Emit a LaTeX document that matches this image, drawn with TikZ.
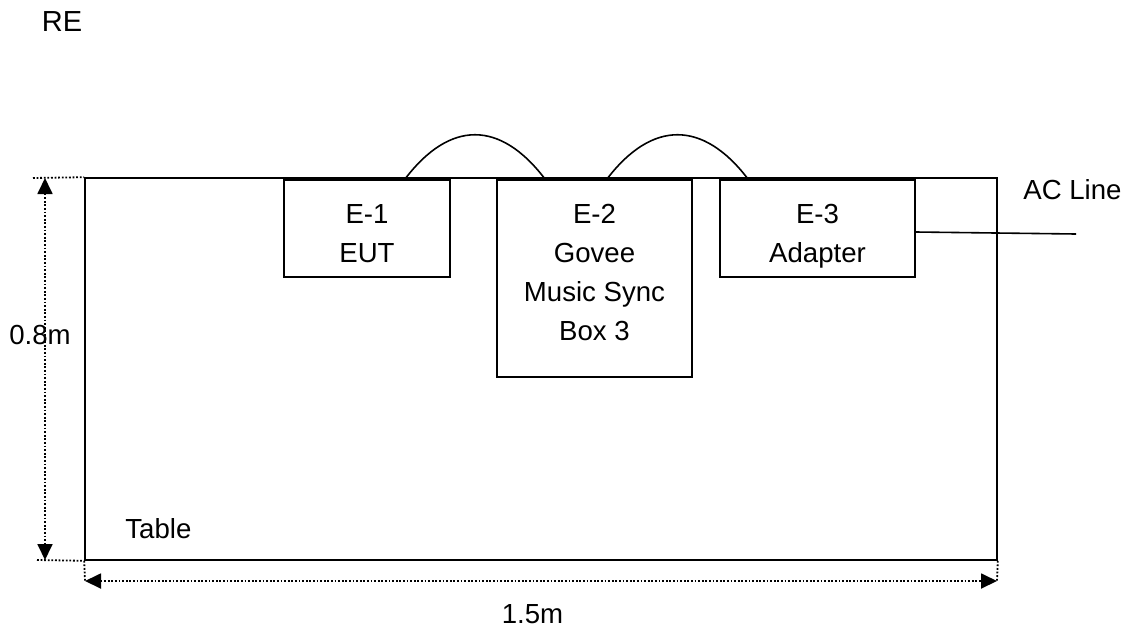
\documentclass[tikz,border=0pt]{standalone}
\usepackage{fontspec}
\setmainfont{Liberation Sans}
\usetikzlibrary{arrows.meta, positioning}

\begin{document}
\begin{tikzpicture}[x=0.5pt, y=-0.5pt, >={Triangle[length=8pt,width=7.5pt]},
    font=\fontsize{13.8}{19.5}\selectfont,
    unit/.style={draw, line width=0.8pt, inner sep=0pt},
    unittext/.style={anchor=north, inner sep=0pt, align=center, yshift=-12.5pt},
    dim/.style={line width=0.9pt, dash pattern=on 0.9pt off 0.9pt},
    cable/.style={line width=0.8pt}]
      \useasboundingbox (0,0) rectangle (1124,632);

      % table and units
      \node[unit, minimum width=456pt, minimum height=191pt] (table) at (541,369) {};
      \node[unit, minimum width=83pt, minimum height=48.5pt] (e1) at (367,228.5) {};
      \node[unit, minimum width=97.5pt, minimum height=98.5pt] (e2) at (594.5,278.5) {};
      \node[unit, minimum width=97.5pt, minimum height=48.5pt] (e3) at (817.5,228.5) {};
      \node[unittext] (e1 text) at (e1.north) {E-1\\EUT};
      \node[unittext] (e2 text) at (e2.north) {E-2\\Govee\\Music Sync\\Box 3};
      \node[unittext] (e3 text) at (e3.north) {E-3\\Adapter};

      \node[anchor=base west, inner sep=0pt] (table label) at (125,538) {Table};
      \node[anchor=west, inner sep=0pt] (ac label) at (1023,190) {AC Line};
      \node[inner sep=0pt, font=\fontsize{14.5}{17}\selectfont] (re label) at (62,22) {RE};

      % cables
      \coordinate (c1a) at (405,179);
      \coordinate (c1b) at (545,179);
      \coordinate (c2a) at (607,179);
      \coordinate (c2b) at (748,179);
      \coordinate (ac end) at (1076,234);
      \draw[cable] (c1a) .. controls (450,120) and (500,120) .. (c1b);
      \draw[cable] (c2a) .. controls (652,120) and (703,120) .. (c2b);
      \draw[cable] (e3.east |- 0,232) -- (ac end);

      % dimensions
      \coordinate (h top) at (33,178);
      \coordinate (h bot) at (37,560);
      \coordinate (w left) at (85,581);
      \coordinate (w right) at (997,581);
      \draw[dim] (h top) -- (table.north west);
      \draw[dim] (h bot) -- (table.south west);
      \draw[dim] (table.south west) -- (w left);
      \draw[dim] (table.south east) -- (w right);
      \draw[dim, <->] (45,178) -- (45,560);
      \draw[dim, <->] (w left) -- (w right);
      \node[inner sep=0pt] (h label) at (40,335) {0.8m};
      \node[inner sep=0pt] (w label) at (532.5,614) {1.5m};
\end{tikzpicture}
\end{document}
